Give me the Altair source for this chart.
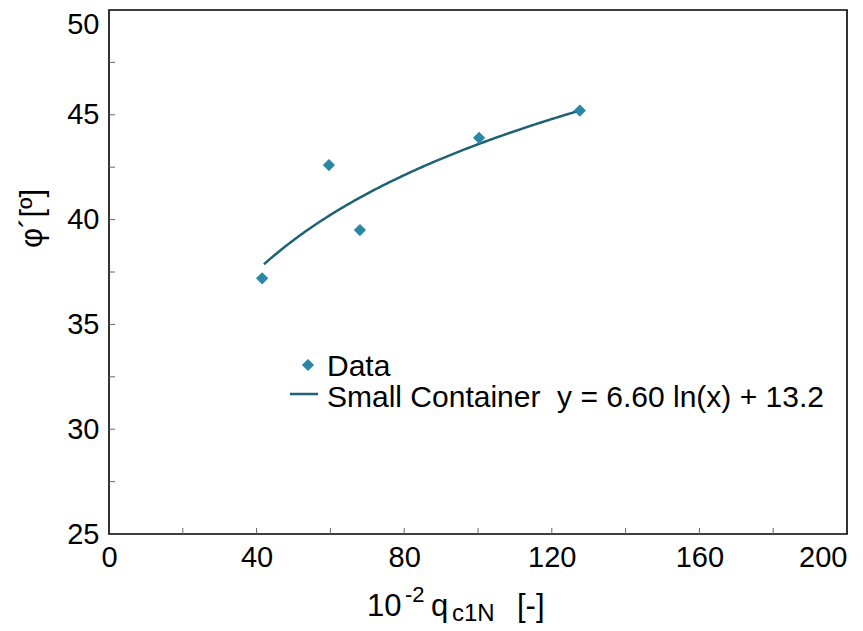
import altair as alt
import pandas as pd

# Measured friction angle against normalised cone resistance
q_c1n = [41.5, 59.6, 68.0, 100.3, 127.6]
phi = [37.2, 42.6, 39.5, 43.9, 45.2]

# Logarithmic fit  y = a ln(x) + b
fit_a = 6.60
fit_b = 13.2
fit_x_start = 42
fit_x_end = 128

# Minor tick positions drawn inside the frame
x_ticks = [20, 40, 60, 80, 100, 120, 140, 160, 180]
y_ticks = [27.5, 30, 32.5, 35, 37.5, 40, 42.5, 45, 47.5]

legend_labels = ["Data", "Small Container\u00a0\u00a0y = 6.60 ln(x) + 13.2"]

POINT_COLOR = "#2b88a4"
LINE_COLOR = "#1f6273"
FONT = "Liberation Sans"

W, H = 738, 524

xs = alt.Scale(domain=[0, 200], nice=False, zero=False)
ys = alt.Scale(domain=[25, 50], nice=False, zero=False)

points_df = pd.DataFrame({"q": q_c1n, "phi": phi})

x_axis = alt.Axis(values=[0, 40, 80, 120, 160, 200], ticks=False, grid=False,
                  domain=False, labelFontSize=29, labelFont=FONT,
                  labelColor="#000", labelPadding=9, title=None,
                  labelFlush=False,
                  labelAlign=alt.ExprRef(expr="datum.value >= 200 ? 'right' : 'center'"))
y_axis = alt.Axis(values=[25, 30, 35, 40, 45, 50], ticks=False, grid=False,
                  domain=False, labelFontSize=29, labelFont=FONT,
                  labelColor="#000", labelPadding=10, title="φ´[º]",
                  titleFontSize=31, titleFont=FONT, titleFontWeight="normal",
                  titleColor="#000", titlePadding=18, titleY=208,
                  labelFlush=False,
                  labelBaseline=alt.ExprRef(expr="datum.value >= 50 ? 'top' : 'middle'"))

points = alt.Chart(points_df).mark_point(
    shape="diamond", filled=True, size=150, color=POINT_COLOR, opacity=1
).encode(
    x=alt.X("q:Q", scale=xs, axis=x_axis),
    y=alt.Y("phi:Q", scale=ys, axis=y_axis),
)

curve = alt.Chart(alt.sequence(fit_x_start, fit_x_end + 0.5, 0.5, as_="q")).transform_calculate(
    phi=f"{fit_a} * log(datum.q) + {fit_b}"
).mark_line(color=LINE_COLOR, strokeWidth=2.5).encode(
    x=alt.X("q:Q", scale=xs),
    y=alt.Y("phi:Q", scale=ys),
)

x_tick_marks = alt.Chart(pd.DataFrame({"q": x_ticks})).mark_rule(
    color="#666", strokeWidth=1
).encode(
    x=alt.X("q:Q", scale=xs),
    y=alt.value(H),
    y2=alt.value(H - 6),
)

y_tick_marks = alt.Chart(pd.DataFrame({"phi": y_ticks})).mark_rule(
    color="#666", strokeWidth=1
).encode(
    y=alt.Y("phi:Q", scale=ys),
    x=alt.value(0),
    x2=alt.value(6),
)


def label(text, px, py, size, baseline="alphabetic"):
    """A free-standing piece of text placed in plot pixels."""
    return alt.Chart(pd.DataFrame({"t": [text]})).mark_text(
        text=text, align="left", baseline=baseline, font=FONT,
        fontSize=size, color="#000"
    ).encode(x=alt.value(px), y=alt.value(py))


# Legend
leg_marker = alt.Chart(pd.DataFrame({"k": [legend_labels[0]]})).mark_point(
    shape="diamond", filled=True, size=150, color=POINT_COLOR, opacity=1
).encode(x=alt.value(199), y=alt.value(355))

leg_line = alt.Chart(pd.DataFrame({"k": [legend_labels[1]]})).mark_rule(
    color=LINE_COLOR, strokeWidth=2.5
).encode(x=alt.value(181), x2=alt.value(209), y=alt.value(384))

leg_text = [
    label(legend_labels[0], 218, 357, 30, "middle"),
    label(legend_labels[1], 218, 388, 30, "middle"),
]

# X-axis title built from pieces for the super- and subscripts
x_title = [
    label("10", 258, 606, 31),
    label("-2", 296, 592, 22),
    label("q", 322, 606, 31),
    label("c1N", 343, 611, 24),
    label("[-]", 408, 606, 31),
]

chart = alt.layer(
    x_tick_marks, y_tick_marks, curve, points, leg_marker, leg_line,
    *leg_text, *x_title
).properties(
    width=W, height=H,
    autosize=alt.AutoSizeParams(type="none"),
    padding={"left": 109, "top": 10, "right": 16, "bottom": 97},
    background="white",
).configure_view(
    stroke="#000", strokeWidth=1.6
)

chart.save("out.html", embed_options={"renderer": "svg", "actions": False})
